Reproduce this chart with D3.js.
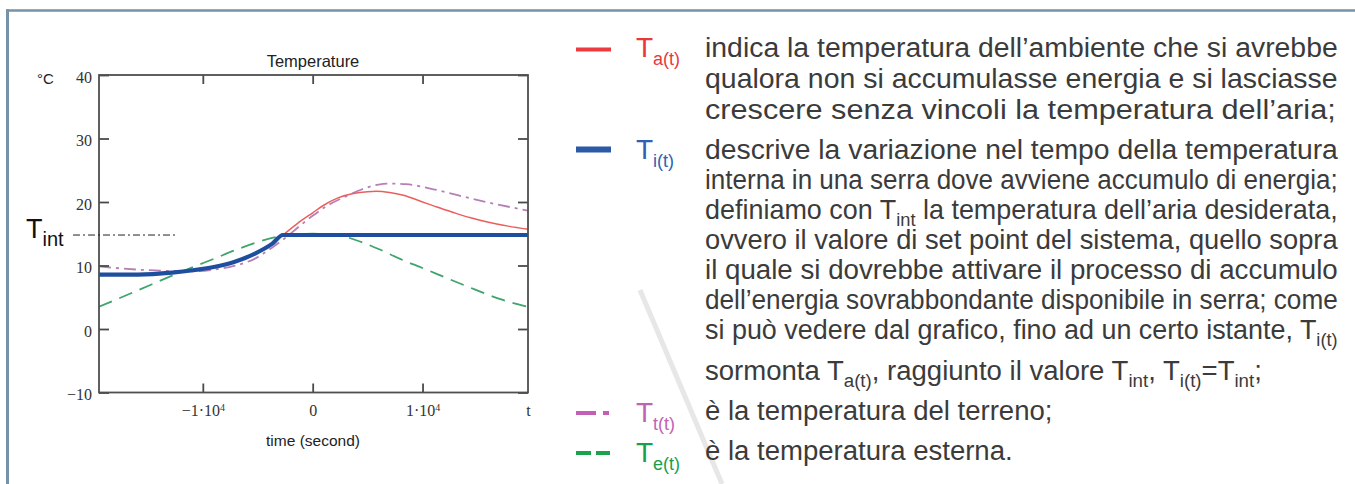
<!DOCTYPE html>
<html><head><meta charset="utf-8">
<script src="https://cdn.jsdelivr.net/npm/d3@7"></script>
<style>body{margin:0;background:#fff}svg{display:block}</style>
</head><body>
<svg id="c" width="1355" height="484"></svg>
<script>
// ---------- data ----------
const xDomain = [-19450, 19600];
const yDomain = [-10, 40];
const yTicks = [-10, 0, 10, 20, 30, 40];
const xTicks = [-10000, 0, 10000, 19600];
const xTickLabels = [["\u22121\u00b710", "4"], ["0", ""], ["1\u00b710", "4"], ["t", ""]];
const tInt = 14.8;

// T_a(t) – ambient (red)
const timeA = [-19450, -15900, -12800, -10900, -9000, -7150, -5250, -3700, -2700, -1400, 0, 964, 2300, 3700, 5000, 5800, 7000, 8250, 9700, 11300, 12800, 14300, 16000, 17800, 19600];
const tempA = [8.57, 8.57, 8.88, 9.25, 9.77, 10.56, 11.88, 13.4, 14.8, 16.6, 18.3, 19.45, 20.65, 21.33, 21.62, 21.69, 21.5, 21.06, 20.2, 19.2, 18.35, 17.55, 16.8, 16.2, 15.7];
// T_i(t) – internal (blue)
const timeI = [-19450, -15900, -12800, -10900, -9000, -7150, -5250, -3700, -2700, 19600];
const tempI = [8.57, 8.57, 8.88, 9.25, 9.77, 10.56, 11.88, 13.4, 14.8, 14.8];
// T_t(t) – ground (magenta dash-dot)
const timeT = [-19450, -15900, -12800, -10900, -9000, -7150, -5250, -3700, -2450, -1200, 60, 1300, 2900, 4450, 6000, 7000, 8500, 10700, 13200, 16000, 19600];
const tempT = [9.85, 9.35, 9.14, 9.09, 9.35, 9.93, 11.09, 12.8, 14.4, 16.2, 17.9, 19.39, 20.8, 21.97, 22.75, 22.91, 22.81, 22.12, 21.07, 19.92, 18.65];
// T_e(t) – external (green dashed)
const timeE = [-19450, -15900, -12800, -10900, -9000, -7150, -5250, -3400, -1800, 0, 2250, 4100, 6000, 8000, 10000, 12300, 14800, 17000, 19600];
const tempE = [3.5, 6.1, 8.4, 9.75, 11.05, 12.35, 13.55, 14.45, 14.85, 15.0, 14.8, 13.9, 12.6, 11.0, 9.6, 7.95, 6.2, 4.75, 3.5];

// ---------- text ----------
const bodyLines = [
  {y: 57,  end: 1338, parts: [["indica la temperatura dell\u2019ambiente che si avrebbe", 0]]},
  {y: 88,  end: 1338, parts: [["qualora non si accumulasse energia e si lasciasse", 0]]},
  {y: 119, end: 1336, parts: [["crescere senza vincoli la temperatura dell\u2019aria;", 0]]},
  {y: 159, end: 1338, parts: [["descrive la variazione nel tempo della temperatura", 0]]},
  {y: 189, end: 1338, parts: [["interna in una serra dove avviene accumulo di energia;", 0]]},
  {y: 219, end: 1338, parts: [["definiamo con T", 0], ["int", 1], [" la temperatura dell\u2019aria desiderata,", 0]]},
  {y: 249, end: 1338, parts: [["ovvero il valore di set point del sistema, quello sopra", 0]]},
  {y: 279, end: 1338, parts: [["il quale si dovrebbe attivare il processo di accumulo", 0]]},
  {y: 309, end: 1338, parts: [["dell\u2019energia sovrabbondante disponibile in serra; come", 0]]},
  {y: 339, end: 1338, parts: [["si pu\u00f2 vedere dal grafico, fino ad un certo istante, T", 0], ["i(t)", 1]]},
  {y: 380, end: 1262, parts: [["sormonta T", 0], ["a(t)", 1], [", raggiunto il valore T", 0], ["int", 1], [", T", 0], ["i(t)", 1], ["=T", 0], ["int", 1], [";", 0]]},
  {y: 420, end: null, parts: [["\u00e8 la temperatura del terreno;", 0]]},
  {y: 460, end: null, parts: [["\u00e8 la temperatura esterna.", 0]]}
];
const legendItems = [
  {y: 49.5, ty: 57,  sub: "a(t)", color: "#ec3b3f", label: "#e8383c", width: 4, dash: null},
  {y: 149.5, ty: 159, sub: "i(t)", color: "#2c5aa6", label: "#2f60b2", width: 6, dash: null},
  {y: 413, ty: 422, sub: "t(t)", color: "#c360b5", label: "#c063b5", width: 4, dash: "20,7,6,20"},
  {y: 453, ty: 462, sub: "e(t)", color: "#1aa24d", label: "#17a04b", width: 4, dash: "15,5,14,20"}
];

// ---------- drawing ----------
const svg = d3.select("#c");
const x = d3.scaleLinear().domain(xDomain).range([99, 528]);
const y = d3.scaleLinear().domain(yDomain).range([392.5, 75]);

// faint watermark streak
svg.append("line").attr("x1", 640).attr("y1", 290).attr("x2", 722).attr("y2", 484)
  .attr("stroke", "#e2e2e2").attr("stroke-width", 5).attr("opacity", 0.8);

// page border
svg.append("line").attr("x1", 6).attr("y1", 10.5).attr("x2", 1355).attr("y2", 10.5)
  .attr("stroke", "#7792a7").attr("stroke-width", 2.6);
svg.append("line").attr("x1", 7.5).attr("y1", 9.2).attr("x2", 7.5).attr("y2", 484)
  .attr("stroke", "#7792a7").attr("stroke-width", 3);

svg.append("clipPath").attr("id", "clip").append("rect")
  .attr("x", x.range()[0]).attr("y", y.range()[1])
  .attr("width", x.range()[1] - x.range()[0]).attr("height", y.range()[0] - y.range()[1]);

const line = d3.line().x(d => x(d[0])).y(d => y(d[1])).curve(d3.curveMonotoneX);
const zip = (a, b) => a.map((v, i) => [v, b[i]]);
const plot = svg.append("g").attr("clip-path", "url(#clip)");

plot.append("path").datum(zip(timeE, tempE)).attr("d", line)
  .attr("fill", "none").attr("stroke", "#3ea56c").attr("stroke-width", 1.8).attr("stroke-dasharray", "14,8");
plot.append("path").datum(zip(timeT, tempT)).attr("d", line)
  .attr("fill", "none").attr("stroke", "#b67fb8").attr("stroke-width", 1.8).attr("stroke-dasharray", "12,5,3,5");
plot.append("path").datum(zip(timeA, tempA)).attr("d", line)
  .attr("fill", "none").attr("stroke", "#e8605e").attr("stroke-width", 1.5);
plot.append("path").datum(zip(timeI, tempI)).attr("d", line)
  .attr("fill", "none").attr("stroke", "#1e4f9e").attr("stroke-width", 4.2);

// axes
const axisStyle = g => {
  g.select(".domain").remove();
  g.selectAll(".tick line").attr("stroke", "#4a4a4a").attr("stroke-width", 1.8);
  g.selectAll(".tick text").attr("fill", "#333").style("font-family", "'Liberation Serif', serif").style("font-size", "16px");
};
svg.append("g").attr("transform", `translate(${x.range()[0]},0)`)
  .call(d3.axisLeft(y).tickValues(yTicks).tickSize(-10).tickPadding(7)
    .tickFormat(d => d < 0 ? "\u2212" + Math.abs(d) : d))
  .call(axisStyle)
  .selectAll(".tick text").attr("dy", "0.45em");
svg.append("g").attr("transform", `translate(${x.range()[1]},0)`)
  .call(d3.axisRight(y).tickValues(yTicks).tickSize(-10).tickFormat(""))
  .call(axisStyle);
svg.append("g").attr("transform", `translate(0,${y.range()[1]})`)
  .call(d3.axisTop(x).tickValues(xTicks.slice(0, 3)).tickSize(-9).tickFormat(""))
  .call(axisStyle);
const gB = svg.append("g").attr("transform", `translate(0,${y.range()[0]})`)
  .call(d3.axisBottom(x).tickValues(xTicks).tickSize(-9).tickPadding(12).tickFormat(""))
  .call(axisStyle);
gB.selectAll(".tick").each(function (d, i) {
  const t = d3.select(this).select("text");
  t.text(null);
  t.append("tspan").text(xTickLabels[i][0]);
  if (xTickLabels[i][1]) t.append("tspan").attr("dy", "-0.5em").style("font-size", "10px").text(xTickLabels[i][1]);
  if (i === xTicks.length - 1) d3.select(this).select("line").remove();
});

// frame
svg.append("rect").attr("x", x.range()[0]).attr("y", y.range()[1])
  .attr("width", x.range()[1] - x.range()[0]).attr("height", y.range()[0] - y.range()[1])
  .attr("fill", "none").attr("stroke", "#4f4f4f").attr("stroke-width", 1.8);

const sans = "'Liberation Sans', Arial, sans-serif";
svg.append("text").attr("x", 313).attr("y", 67)
  .attr("text-anchor", "middle").style("font-family", sans).style("font-size", "16.5px").attr("fill", "#222").text("Temperature");
svg.append("text").attr("x", 313).attr("y", 446)
  .attr("text-anchor", "middle").style("font-family", sans).style("font-size", "15.5px").attr("fill", "#222").text("time (second)");
svg.append("text").attr("x", 37).attr("y", 84)
  .style("font-family", sans).style("font-size", "15px").attr("fill", "#222").text("\u00b0C");

// T_int annotation
svg.append("line").attr("x1", 73).attr("x2", 178).attr("y1", y(tInt)).attr("y2", y(tInt))
  .attr("stroke", "#222").attr("stroke-width", 1).attr("stroke-dasharray", "7,3,2,3");
const ti = svg.append("text").attr("x", 26).attr("y", y(tInt) + 3).style("font-family", sans).attr("fill", "#111");
ti.append("tspan").style("font-size", "27px").text("T");
ti.append("tspan").style("font-size", "20px").attr("dy", 8).text("int");

// legend
legendItems.forEach(d => {
  const l = svg.append("line").attr("x1", 576).attr("x2", 611).attr("y1", d.y).attr("y2", d.y)
    .attr("stroke", d.color).attr("stroke-width", d.width);
  if (d.dash) l.attr("stroke-dasharray", d.dash);
  const t = svg.append("text").attr("x", 636).attr("y", d.ty).style("font-family", sans).attr("fill", d.label);
  t.append("tspan").style("font-size", "28px").text("T");
  t.append("tspan").style("font-size", "18px").attr("dy", 8).text(d.sub);
});

// body text (justified by horizontal scaling)
const x0 = 705;
const scales = [];
const pending = [];
bodyLines.forEach(L => {
  const g = svg.append("g").attr("transform", `translate(${x0},${L.y})`);
  const t = g.append("text").attr("x", 0).attr("y", 0).style("font-family", sans)
    .style("font-size", "28px").attr("fill", "#3b3b3b");
  let shift = 0;
  L.parts.forEach(([s, sub]) => {
    const sp = t.append("tspan").text(s);
    if (sub) { sp.style("font-size", "19px").attr("dy", 7 - shift); shift = 7; }
    else if (shift) { sp.attr("dy", -shift); shift = 0; }
  });
  const w = t.node().getComputedTextLength();
  if (L.end) {
    const sx = (L.end - x0) / w;
    scales.push(sx);
    g.attr("transform", `translate(${x0},${L.y}) scale(${sx},1)`);
  } else pending.push(g.datum(L));
});
const sMed = d3.median(scales);
pending.forEach(g => g.attr("transform", `translate(${x0},${g.datum().y}) scale(${sMed},1)`));
</script>
</body></html>
